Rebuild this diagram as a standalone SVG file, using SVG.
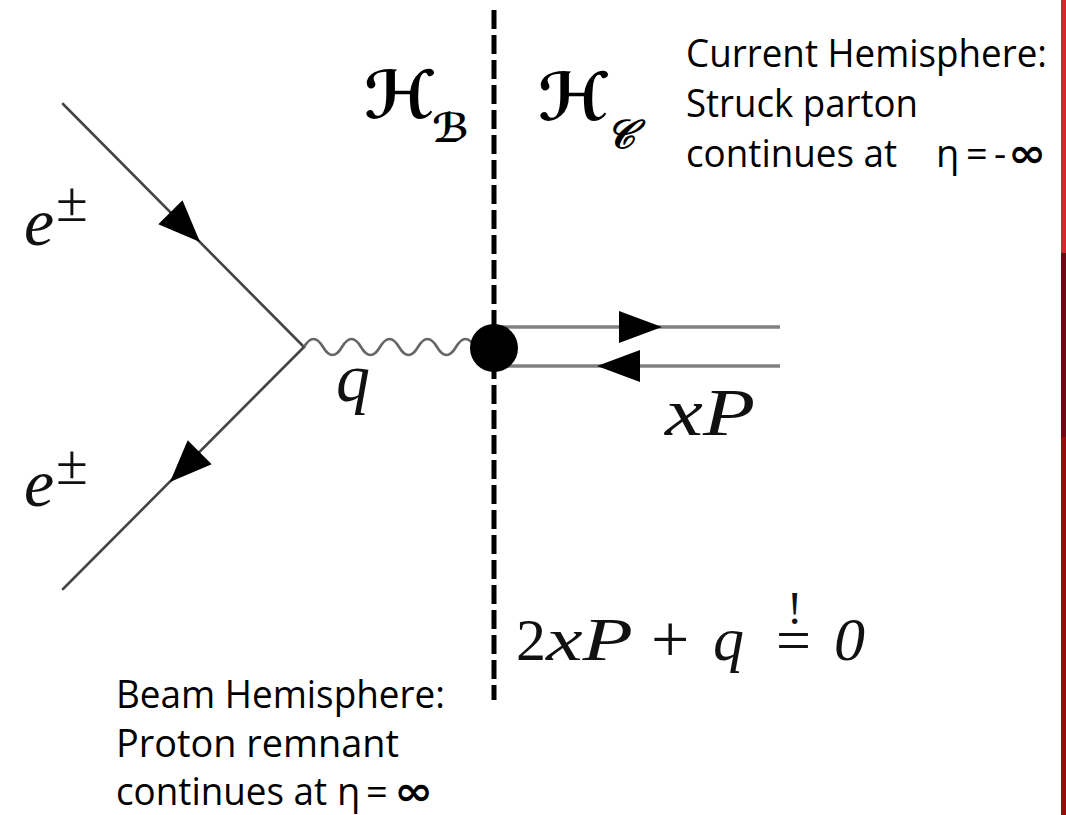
<svg xmlns="http://www.w3.org/2000/svg" width="1066" height="815" viewBox="0 0 1066 815">
<style>
.fer{stroke:#444;stroke-width:2.6;fill:none;stroke-linecap:round}
.qk{stroke:#808080;stroke-width:3.6;fill:none}
.wav{stroke:#666;stroke-width:2.6;fill:none}
.arr{fill:#000}
.cut{stroke:#000;stroke-width:5;stroke-dasharray:19 6;fill:none}
.m{font-family:"Liberation Serif","DejaVu Serif",serif;fill:#111}
.mi{font-family:"Liberation Serif","DejaVu Serif",serif;font-style:italic;fill:#111}
.sc{font-family:"DejaVu Serif","DejaVu Sans",serif;font-style:italic;font-weight:bold;fill:#000}
.t{font-family:"Open Sans","Noto Sans","Liberation Sans",sans-serif;font-size:38px;fill:#000}
.inf{font-family:"DejaVu Sans",sans-serif;font-weight:bold;font-size:40px;fill:#000}
</style>
<rect width="1066" height="815" fill="#fff"/>
<g id="sidebar">
<rect x="1061" y="0" width="5" height="253" fill="#d8262c"/>
<rect x="1061" y="253" width="5" height="184" fill="#6e0a14"/>
<rect x="1061" y="437" width="5" height="378" fill="#9a0a0a"/>
</g>
<g id="hemisphere-cut">
<line class="cut" x1="494" y1="10" x2="494" y2="700"/>
</g>
<g id="connectors">
<line class="fer" x1="63" y1="104" x2="304" y2="347"/>
<polygon class="arr" points="200,242 158.3,224.2 182.5,200.2"/>
<line class="fer" x1="304" y1="347" x2="63" y2="589"/>
<polygon class="arr" points="170,482 211.7,464.3 187.7,440.3"/>
<path class="wav" d="M304,347 q9.5,-16 19,0 t19,0 t19,0 t19,0 t19,0 t19,0 t19,0 t19,0 t19,0"/>
<line class="qk" x1="494" y1="327" x2="780" y2="327"/>
<polygon class="arr" points="662,327 619,311 619,343"/>
<line class="qk" x1="494" y1="366" x2="780" y2="366"/>
<polygon class="arr" points="597,366 640,350 640,382"/>
</g>
<g id="blob">
<circle cx="494" cy="348" r="24" fill="#000"/>
</g>
<g id="label-HB">
<text class="sc" x="364" y="118" font-size="66">ℋ</text>
<text class="sc" x="432" y="142" font-size="40">ℬ</text>
</g>
<g id="label-HC">
<text class="sc" x="538" y="120" font-size="66">ℋ</text>
<text class="sc" x="606" y="148" font-size="40">𝒞</text>
</g>
<g id="label-e-in">
<text class="mi" x="24" y="245" font-size="68">e</text>
<text class="m" x="56" y="221" font-size="58">±</text>
</g>
<g id="label-e-out">
<text class="mi" x="24" y="506" font-size="68">e</text>
<text class="m" x="56" y="484" font-size="58">±</text>
</g>
<g id="label-q">
<text class="mi" x="336" y="401" font-size="68">q</text>
</g>
<g id="label-xP">
<text class="mi" x="665" y="435" font-size="68" textLength="90" lengthAdjust="spacingAndGlyphs">xP</text>
</g>
<g id="equation">
<text class="m" x="516" y="660" font-size="60">2</text>
<text class="mi" x="546" y="660" font-size="62" textLength="87" lengthAdjust="spacingAndGlyphs">xP</text>
<text class="m" x="651" y="662" font-size="68">+</text>
<text class="mi" x="713" y="660" font-size="62">q</text>
<text class="m" x="776" y="661" font-size="62">=</text>
<text class="m" x="787" y="624" font-size="46">!</text>
<text class="mi" x="834" y="660" font-size="62">0</text>
</g>
<g id="current-hemisphere">
<text class="t" x="686" y="67" textLength="361" lengthAdjust="spacingAndGlyphs">Current Hemisphere:</text>
<text class="t" x="686" y="117" textLength="232" lengthAdjust="spacingAndGlyphs">Struck parton</text>
<text class="t" x="686" y="167" textLength="211" lengthAdjust="spacingAndGlyphs">continues at</text>
<text class="t" x="936" y="167">η</text>
<text class="t" x="966" y="167">=</text>
<text class="t" x="994" y="167">-</text>
<text class="inf" x="1008" y="167" textLength="38" lengthAdjust="spacingAndGlyphs">∞</text>
</g>
<g id="beam-hemisphere">
<text class="t" x="116" y="708" textLength="329" lengthAdjust="spacingAndGlyphs">Beam Hemisphere:</text>
<text class="t" x="116" y="757" textLength="283" lengthAdjust="spacingAndGlyphs">Proton remnant</text>
<text class="t" x="116" y="805" textLength="211" lengthAdjust="spacingAndGlyphs">continues at</text>
<text class="t" x="337" y="805">η</text>
<text class="t" x="366" y="805">=</text>
<text class="inf" x="394" y="805" textLength="39" lengthAdjust="spacingAndGlyphs">∞</text>
</g>
</svg>
